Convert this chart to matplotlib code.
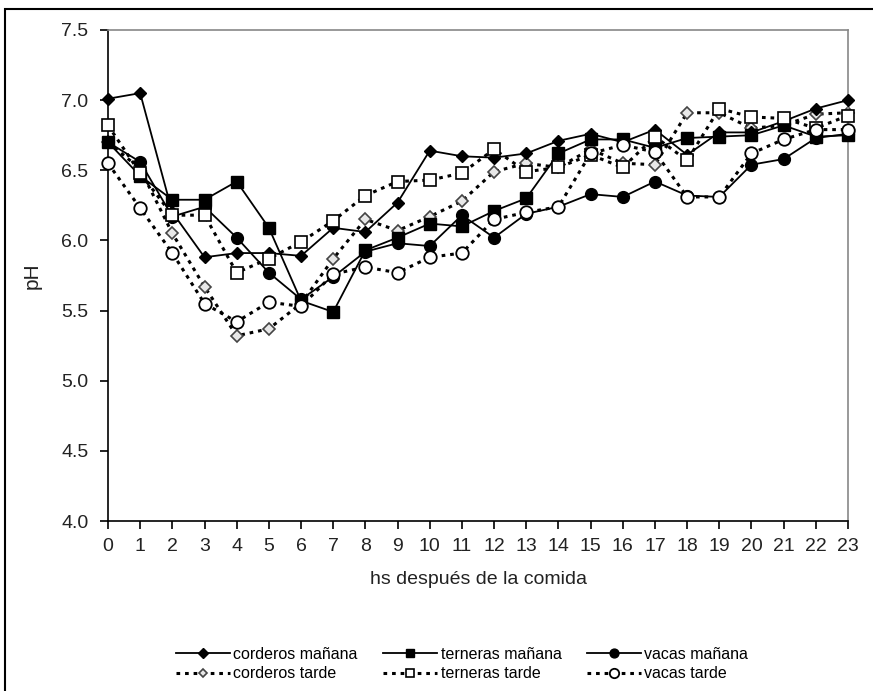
import numpy as np
import matplotlib.pyplot as plt
from matplotlib.patches import Rectangle

plt.rcParams['font.family'] = ['Liberation Sans', 'DejaVu Sans']

hours = list(range(24))

corderos_manana = [7.01, 7.05, 6.20, 5.88, 5.91, 5.91, 5.89, 6.09, 6.06, 6.27, 6.64, 6.60,
                   6.59, 6.62, 6.71, 6.76, 6.70, 6.79, 6.61, 6.77, 6.77, 6.85, 6.94, 7.00]
terneras_manana = [6.70, 6.46, 6.29, 6.29, 6.42, 6.09, 5.57, 5.49, 5.93, 6.02, 6.12, 6.10,
                   6.21, 6.30, 6.62, 6.72, 6.72, 6.66, 6.73, 6.74, 6.75, 6.82, 6.74, 6.75]
vacas_manana = [6.70, 6.56, 6.17, 6.24, 6.02, 5.77, 5.58, 5.74, 5.92, 5.98, 5.96, 6.18,
                6.02, 6.19, 6.24, 6.33, 6.31, 6.42, 6.32, 6.31, 6.54, 6.58, 6.73, 6.76]
corderos_tarde = [6.70, 6.51, 6.05, 5.67, 5.32, 5.37, 5.55, 5.87, 6.15, 6.07, 6.17, 6.28,
                  6.49, 6.55, 6.52, 6.65, 6.55, 6.54, 6.91, 6.91, 6.80, 6.82, 6.90, 6.91]
terneras_tarde = [6.82, 6.48, 6.18, 6.18, 5.77, 5.87, 5.99, 6.14, 6.32, 6.42, 6.43, 6.48,
                  6.65, 6.49, 6.52, 6.61, 6.52, 6.74, 6.57, 6.94, 6.88, 6.87, 6.80, 6.89]
vacas_tarde = [6.55, 6.23, 5.91, 5.55, 5.42, 5.56, 5.53, 5.76, 5.81, 5.77, 5.88, 5.91,
               6.15, 6.20, 6.24, 6.62, 6.68, 6.63, 6.31, 6.31, 6.62, 6.72, 6.79, 6.79]

y_ticks = [4.0, 4.5, 5.0, 5.5, 6.0, 6.5, 7.0, 7.5]

fig = plt.figure(figsize=(8.73, 6.91), dpi=100)
ax = fig.add_axes([108 / 873, 1 - 521 / 691, 740 / 873, 491 / 691])

# outer frame of the figure (cropped from a document)
fig.patches.append(Rectangle((5 / 873, -0.05), 1.1, 1 - 9 / 691 + 0.05,
                             transform=fig.transFigure, fill=False,
                             edgecolor='black', linewidth=1.5, zorder=0))

dots = (0, (1.2, 1.6))
common = dict(color='black', clip_on=False)

l_ct, = ax.plot(hours, corderos_tarde, linestyle=dots, marker='D', markersize=6,
                markerfacecolor='#e8e8e8', markeredgecolor='#444444', markeredgewidth=1.2,
                linewidth=2.2, label='corderos tarde', zorder=2, **common)
l_cm, = ax.plot(hours, corderos_manana, '-', marker='D', markersize=6.5,
                markerfacecolor='black', linewidth=1.3, label='corderos mañana', zorder=3, **common)
l_tm, = ax.plot(hours, terneras_manana, '-', marker='s', markersize=8.5,
                markerfacecolor='black', linewidth=1.3, label='terneras mañana', zorder=3, **common)
l_vm, = ax.plot(hours, vacas_manana, '-', marker='o', markersize=8.5,
                markerfacecolor='black', linewidth=1.3, label='vacas mañana', zorder=3, **common)
l_tt, = ax.plot(hours, terneras_tarde, linestyle=dots, marker='s', markersize=8,
                markerfacecolor='white', markeredgewidth=1.2,
                linewidth=2.2, label='terneras tarde', zorder=4, **common)
l_vt, = ax.plot(hours, vacas_tarde, linestyle=dots, marker='o', markersize=9,
                markerfacecolor='white', markeredgewidth=1.3,
                linewidth=2.2, label='vacas tarde', zorder=4, **common)

ax.set_xlim(0, 23)
ax.set_ylim(4.0, 7.5)
ax.set_xticks(hours)
ax.set_yticks(y_ticks)
ax.set_yticklabels(['%.1f' % v for v in y_ticks])
ax.tick_params(axis='both', direction='out', length=6, width=1.2,
               labelsize=14, labelcolor='#222222', color='black')
ax.tick_params(axis='x', pad=6)
ax.tick_params(axis='y', pad=8)

for side in ['left', 'bottom']:
    ax.spines[side].set_color('black')
    ax.spines[side].set_linewidth(1.2)
for side in ['top', 'right']:
    ax.spines[side].set_color('#888888')
    ax.spines[side].set_linewidth(1.2)

ax.set_xlabel('hs después de la comida', fontsize=14, color='#222222', labelpad=12)
ax.set_ylabel('pH', fontsize=15, color='#222222', labelpad=14)

handles = [l_cm, l_ct, l_tm, l_tt, l_vm, l_vt]
fig.legend(handles=handles, labels=[h.get_label() for h in handles], ncol=3,
           loc='center', bbox_to_anchor=(462 / 873, 1 - 664 / 691),
           frameon=False, fontsize=11.5, handlelength=3.4, handletextpad=0.2,
           columnspacing=1.6, labelspacing=0.3, borderpad=0, markerscale=0.75)

fig.savefig('out.png', dpi=100)
